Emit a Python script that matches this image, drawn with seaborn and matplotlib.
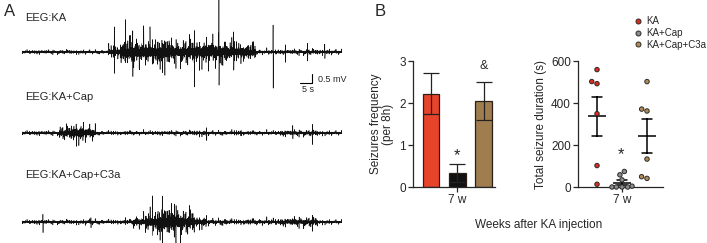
import matplotlib
matplotlib.use("Agg")
import matplotlib.pyplot as plt
from matplotlib.lines import Line2D
import numpy as np
import pandas as pd
import seaborn as sns

# ---- panel B data ----
groups = ["KA", "KA+Cap", "KA+Cap+C3a"]
freq_mean = [2.22, 0.33, 2.05]
freq_sem = [0.49, 0.21, 0.46]
dur_ka = [559, 502, 492, 349, 102, 13]
dur_cap = [74, 58, 34, 4, 0, 0, 0, 0]
dur_c3a = [502, 371, 362, 133, 49, 41]
bar_colors = ["#e8432b", "#111111", "#a07d4e"]
dot_colors = ["#e02a1c", "#8c8c8c", "#b38b55"]

# ---- panel A: EEG envelopes (mV per 5 s block) and isolated spikes (t, up, down) ----
eeg_labels = ["EEG:KA", "EEG:KA+Cap", "EEG:KA+Cap+C3a"]
env_ka = [0.13, 0.13, 0.13, 0.13, 0.13, 0.13, 0.13, 0.45, 1.05, 1.1, 1.0, 1.05, 0.8,
          0.85, 0.9, 1.0, 0.85, 0.75, 0.65, 0.18, 0.18, 0.16, 0.18, 0.18, 0.18, 0.16]
env_cap = [0.14, 0.14, 0.14, 0.45, 0.65, 0.5, 0.14, 0.14, 0.15, 0.15, 0.14, 0.14, 0.15,
           0.15, 0.2, 0.15, 0.15, 0.18, 0.15, 0.15, 0.14, 0.2, 0.2, 0.2, 0.15, 0.14]
env_c3a = [0.14, 0.15, 0.14, 0.14, 0.15, 0.18, 0.15, 0.15, 0.18, 0.45, 0.8, 1.1, 1.05,
           0.8, 0.4, 0.22, 0.22, 0.18, 0.22, 0.22, 0.22, 0.26, 0.32, 0.32, 0.15, 0.14]
spk_ka = [(37.5, 1.3, 1.3), (42, 1.8, 0.8), (45, 1.5, 1.2), (52, 1.4, 0.8), (58, 1.0, 1.2),
          (70, 0.9, 2.0), (80, 2.9, 1.9), (86, 1.3, 1.0), (102, 1.5, 2.2), (107, 0.4, 0.4),
          (116, 0.5, 0.5), (123, 0.4, 0.4)]
spk_cap = [(22, 0.5, 0.4), (75, 0.35, 0.4), (89, 0.2, 0.2), (110, 0.3, 0.35), (118, 0.55, 0.6)]
spk_c3a = [(8.5, 0.35, 0.55), (28, 0.3, 0.3), (42, 0.25, 0.25), (53, 0.9, 0.9),
           (57, 1.45, 1.1), (62, 1.0, 0.9), (118, 0.45, 0.45)]

sns.set_style("ticks")
plt.rcParams["font.family"] = ["Liberation Sans", "DejaVu Sans"]
plt.rcParams["axes.linewidth"] = 0.9

fig = plt.figure(figsize=(7.07, 2.43), dpi=100)
W, H = 707, 243


def fx(px):
    return px / W


def fy(py):
    return 1 - py / H


# ---- panel A ----
fs = 20
t = np.arange(0, 130, 1 / fs)
carrier = (np.sin(2 * np.pi * 3.1 * t) + 0.7 * np.sin(2 * np.pi * 7.3 * t + 1.0)
           + 0.5 * np.sin(2 * np.pi * 5.3 * t + 2.0)) / 2.2
spiky = np.abs(np.sin(2 * np.pi * 1.37 * t) * np.sin(2 * np.pi * 0.53 * t + 0.4)
               * np.sin(2 * np.pi * 2.71 * t + 1.1)) ** 1.3
carrier *= 0.3 + 1.5 * spiky


def build_trace(env, spikes):
    y = np.repeat(env, 5 * fs)[: len(t)] * carrier
    for ts, up, down in spikes:
        i = int(ts * fs)
        y[i] += up
        y[i + 1] -= down
    return y


axA = fig.add_axes([fx(22), 0, fx(320), 1])
px_per_mv = 18
baselines = [-52 / px_per_mv, -133 / px_per_mv, -222 / px_per_mv]
for env, spk, base in zip([env_ka, env_cap, env_c3a], [spk_ka, spk_cap, spk_c3a], baselines):
    sns.lineplot(x=t, y=build_trace(env, spk) + base, ax=axA, color="#111111",
                 linewidth=0.4, estimator=None, sort=False)
axA.set_xlim(0, 130)
axA.set_ylim(-H / px_per_mv, 0)
axA.axis("off")

fig.text(fx(4), fy(12), "A", fontsize=12, va="center")
for lab, ypx in zip(eeg_labels, [18, 97, 175]):
    fig.text(fx(25), fy(ypx), lab, fontsize=8, va="center")

# scale bar 5 s / 0.5 mV
axA.plot([113, 118], [-83 / px_per_mv] * 2, color="black", lw=0.8, clip_on=False)
axA.plot([118, 118], [-83 / px_per_mv, -83 / px_per_mv + 0.5], color="black", lw=0.8,
         clip_on=False)
fig.text(fx(318), fy(79), "0.5 mV", fontsize=6.5, va="center")
fig.text(fx(308), fy(90), "5 s", fontsize=6.5, va="center", ha="center")

# ---- panel B: bar chart ----
fig.text(fx(375), fy(12), "B", fontsize=12, va="center")
bottom, height = fy(187), fy(61) - fy(187)

ax1 = fig.add_axes([fx(413), bottom, fx(82), height])
freq_df = pd.DataFrame({"group": groups, "freq": freq_mean})
sns.barplot(data=freq_df, x="group", y="freq", hue="group", palette=bar_colors,
            order=groups, width=0.64, saturation=1, edgecolor="#2a1f18", linewidth=0.9,
            legend=False, ax=ax1)
ax1.errorbar(range(3), freq_mean, yerr=freq_sem, fmt="none", ecolor="#222222",
             elinewidth=0.9, capsize=6, capthick=0.9)
ax1.text(1, 0.74, "*", ha="center", va="center", fontsize=12)
ax1.text(2, 2.88, "&", ha="center", va="center", fontsize=9)
ax1.set_xlim(-0.68, 2.42)
ax1.set_ylim(0, 3)
ax1.set_yticks([0, 1, 2, 3])
ax1.set_xticks([1])
ax1.set_xticklabels(["7 w"])
ax1.set_xlabel("")
ax1.set_ylabel("Seizures frequency\n(per 8h)", fontsize=8.5, labelpad=4, linespacing=1.0)
ax1.tick_params(labelsize=8.5, length=3.5, width=0.9, pad=1.5)
sns.despine(ax=ax1)

# ---- panel B: scatter with mean +/- SEM ----
ax2 = fig.add_axes([fx(578), bottom, fx(85), height])
dur_df = pd.DataFrame({
    "group": [groups[0]] * len(dur_ka) + [groups[1]] * len(dur_cap) + [groups[2]] * len(dur_c3a),
    "duration": dur_ka + dur_cap + dur_c3a,
})
sns.swarmplot(data=dur_df, x="group", y="duration", hue="group", palette=dot_colors,
              order=groups, size=3.2, edgecolor="#2a2a2a", linewidth=0.7, legend=False, ax=ax2)
sns.pointplot(data=dur_df, x="group", y="duration", order=groups, errorbar="se",
              capsize=0.38, color="black", marker="_", markersize=13, markeredgewidth=1.1,
              linestyle="none", err_kws={"linewidth": 1.1}, ax=ax2)
ax2.text(0.95, 152, "*", ha="center", va="center", fontsize=12)
ax2.set_xlim(-0.76, 2.64)
ax2.set_ylim(0, 600)
ax2.set_yticks([0, 200, 400, 600])
ax2.set_xticks([1])
ax2.set_xticklabels(["7 w"])
ax2.set_xlabel("")
ax2.set_ylabel("Total seizure duration (s)", fontsize=8.5, labelpad=3)
ax2.tick_params(labelsize=8.5, length=3.5, width=0.9, pad=1.5)
sns.despine(ax=ax2)
for c in ax2.collections:
    c.set_clip_on(False)

handles = [Line2D([], [], marker="o", linestyle="none", markersize=3.6, markerfacecolor=c,
                  markeredgecolor="#2a2a2a", markeredgewidth=0.7) for c in dot_colors]
fig.legend(handles, groups, loc="upper left", bbox_to_anchor=(fx(633), fy(16)),
           frameon=False, fontsize=7, handletextpad=0.4, labelspacing=0.2,
           handlelength=1.0, borderpad=0, borderaxespad=0)

fig.text(fx(539), fy(225), "Weeks after KA injection", fontsize=8.5, ha="center", va="center")

fig.savefig("out.png", dpi=100)
